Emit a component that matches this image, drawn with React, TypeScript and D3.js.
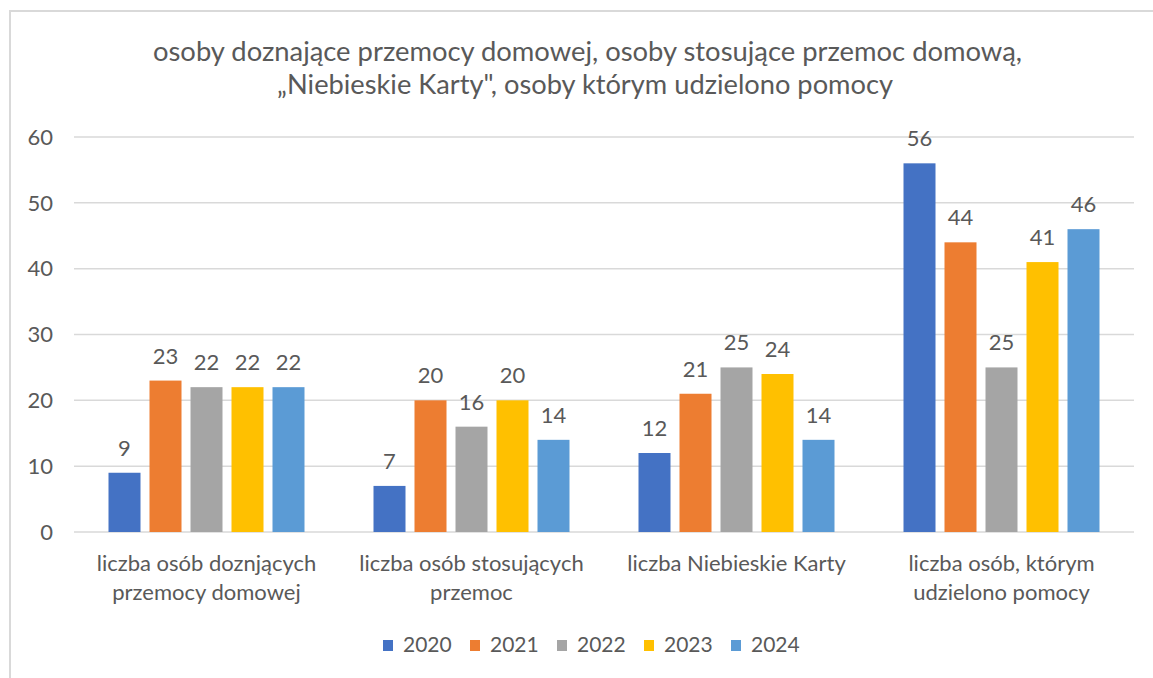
import React from "react";
import * as d3 from "d3";

const categories: string[][] = [
  ["liczba osób doznjących", "przemocy domowej"],
  ["liczba osób stosujących", "przemoc"],
  ["liczba Niebieskie Karty"],
  ["liczba osób, którym", "udzielono pomocy"],
];
const years = ["2020", "2021", "2022", "2023", "2024"];
const colors = ["#4472C4", "#ED7D31", "#A5A5A5", "#FFC000", "#5B9BD5"];
const v2020 = [9, 7, 12, 56];
const v2021 = [23, 20, 21, 44];
const v2022 = [22, 16, 25, 25];
const v2023 = [22, 20, 24, 41];
const v2024 = [22, 14, 14, 46];
const series = [v2020, v2021, v2022, v2023, v2024];
const yTicks = [0, 10, 20, 30, 40, 50, 60];
const titleLines = [
  "osoby doznające przemocy domowej, osoby stosujące przemoc domową,",
  "„Niebieskie  Karty\", osoby którym udzielono pomocy",
];

const W = 1153;
const H = 678;
const FONT = "Lato, 'Open Sans', sans-serif";
const TXT = "#595959";

export default function App() {
  const left = 74;
  const right = 1134;
  const top = 137;
  const bottom = 532;
  const y = d3.scaleLinear().domain([0, 60]).range([bottom, top]);
  const x0 = d3
    .scaleBand<number>()
    .domain(categories.map((_, i) => i))
    .range([left, right])
    .padding(0);
  const innerW = 196;
  const x1 = d3
    .scaleBand<number>()
    .domain(years.map((_, i) => i))
    .range([0, innerW])
    .paddingInner(9 / 41)
    .paddingOuter(0);

  const legendStep = 87;
  const legendX0 = 383;
  const titleX = [587.5, 585];
  const titleLen = [869, 616];

  return (
    <svg
      width={W}
      height={H}
      style={{ position: "absolute", left: 0, top: 0, background: "#fff" }}
      fontFamily={FONT}
    >
      <rect x={0} y={0} width={W} height={H} fill="#fff" />
      <line x1={10} y1={11} x2={W} y2={11} stroke="#D9D9D9" strokeWidth={2} />
      <line x1={10} y1={10} x2={10} y2={H} stroke="#D9D9D9" strokeWidth={2} />
      {titleLines.map((t, i) => (
        <text
          key={i}
          x={titleX[i]}
          y={61 + i * 33}
          textAnchor="middle"
          fontSize={26}
          textLength={titleLen[i]}
          lengthAdjust="spacingAndGlyphs"
          fill={TXT}
        >
          {t}
        </text>
      ))}
      {yTicks.map((t) => (
        <g key={t}>
          <line
            x1={left}
            x2={right}
            y1={y(t)}
            y2={y(t)}
            stroke="#D9D9D9"
            strokeWidth={1.5}
          />
          <text
            x={53}
            y={y(t)}
            dy="0.35em"
            textAnchor="end"
            fontSize={22}
            fill={TXT}
          >
            {t}
          </text>
        </g>
      ))}
      {categories.map((cat, ci) => {
        const cx = (x0(ci) as number) + x0.bandwidth() / 2;
        const gx = cx - innerW / 2;
        return (
          <g key={ci}>
            {series.map((s, si) => {
              const bx = gx + (x1(si) as number);
              const v = s[ci];
              return (
                <g key={si}>
                  <rect
                    x={bx}
                    y={y(v)}
                    width={x1.bandwidth()}
                    height={y(0) - y(v)}
                    fill={colors[si]}
                  />
                  <text
                    x={bx + x1.bandwidth() / 2}
                    y={y(v) - 17}
                    textAnchor="middle"
                    fontSize={22}
                    fill={TXT}
                  >
                    {v}
                  </text>
                </g>
              );
            })}
            {cat.map((line, li) => (
              <text
                key={li}
                x={cx}
                y={571 + li * 29}
                textAnchor="middle"
                fontSize={22}
                fill={TXT}
              >
                {line}
              </text>
            ))}
          </g>
        );
      })}
      {years.map((yr, i) => (
        <g key={yr} transform={`translate(${legendX0 + i * legendStep},0)`}>
          <rect x={0} y={640} width={10} height={11} fill={colors[i]} />
          <text x={20} y={652} fontSize={21} fill={TXT}>
            {yr}
          </text>
        </g>
      ))}
    </svg>
  );
}
